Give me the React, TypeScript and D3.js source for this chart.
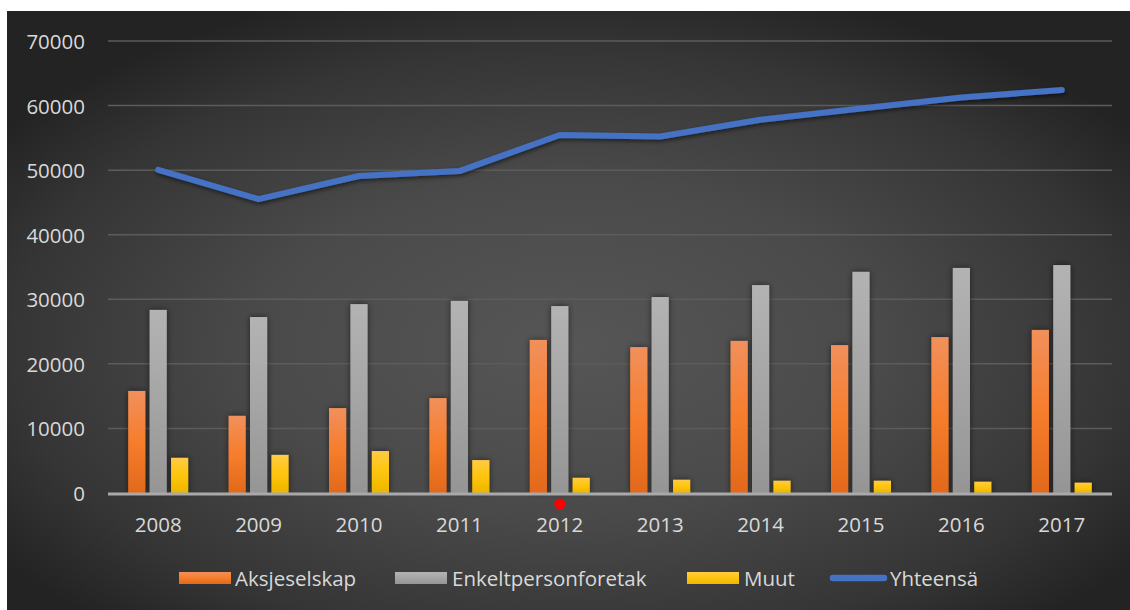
import React from "react";
import * as d3 from "d3";

const years = ["2008", "2009", "2010", "2011", "2012", "2013", "2014", "2015", "2016", "2017"];
const aksjeselskap = [15800, 11950, 13150, 14700, 23700, 22600, 23550, 22900, 24150, 25250];
const enkeltperson = [28350, 27250, 29250, 29750, 28950, 30350, 32200, 34250, 34850, 35300];
const muut = [5450, 5900, 6500, 5100, 2350, 2050, 1900, 1900, 1750, 1600];
const yhteensa = [50050, 45500, 49100, 49850, 55450, 55200, 57800, 59550, 61250, 62400];
const yTicks = [0, 10000, 20000, 30000, 40000, 50000, 60000, 70000];
const seriesNames = ["Aksjeselskap", "Enkeltpersonforetak", "Muut", "Yhteensä"];

const W = 1130;
const H = 610;
const FONT = "'Open Sans', 'Liberation Sans', sans-serif";
const TEXT = "#d9d9d9";

export default function App() {
  const x = d3.scaleBand<string>().domain(years).range([108, 1112]).paddingInner(0).paddingOuter(0);
  const y = d3.scaleLinear().domain([0, 70000]).range([493, 41]);
  const barKeys = ["a", "e", "m"];
  const sub = d3.scaleBand<string>().domain(barKeys).range([-30, 30]).paddingInner(0.2);
  const barSeries = [
    { key: "a", values: aksjeselskap, grad: "gOrange" },
    { key: "e", values: enkeltperson, grad: "gGray" },
    { key: "m", values: muut, grad: "gYellow" },
  ];
  const cx = (yr: string) => (x(yr) as number) + x.bandwidth() / 2;
  const line = d3
    .line<number>()
    .x((_, i) => cx(years[i]))
    .y((v) => y(v));

  const legend = [
    { name: seriesNames[0], kind: "bar", grad: "gOrange", sx: 179, tx: 235 },
    { name: seriesNames[1], kind: "bar", grad: "gGray", sx: 395, tx: 452 },
    { name: seriesNames[2], kind: "bar", grad: "gYellow", sx: 687, tx: 744 },
    { name: seriesNames[3], kind: "line", grad: "", sx: 830, tx: 890 },
  ];
  const legY = 578;

  return (
    <svg
      width={W}
      height={H}
      style={{ position: "absolute", left: 0, top: 0, display: "block" }}
      xmlns="http://www.w3.org/2000/svg"
    >
      <defs>
        <radialGradient id="bg" cx="0.5" cy="0.56" r="0.62" fx="0.5" fy="0.56">
          <stop offset="0" stopColor="#565656" />
          <stop offset="0.45" stopColor="#4a4a4a" />
          <stop offset="0.8" stopColor="#353535" />
          <stop offset="1" stopColor="#232323" />
        </radialGradient>
        <linearGradient id="gOrange" x1="0" y1="0" x2="0" y2="1">
          <stop offset="0" stopColor="#f1905c" />
          <stop offset="0.5" stopColor="#f67d2c" />
          <stop offset="1" stopColor="#e2691a" />
        </linearGradient>
        <linearGradient id="gGray" x1="0" y1="0" x2="0" y2="1">
          <stop offset="0" stopColor="#b3b3b3" />
          <stop offset="0.5" stopColor="#a5a5a5" />
          <stop offset="1" stopColor="#959595" />
        </linearGradient>
        <linearGradient id="gYellow" x1="0" y1="0" x2="0" y2="1">
          <stop offset="0" stopColor="#ffcb45" />
          <stop offset="0.5" stopColor="#ffc50a" />
          <stop offset="1" stopColor="#ecb600" />
        </linearGradient>
        <filter id="shadow" x="-50%" y="-20%" width="200%" height="140%">
          <feDropShadow dx="0" dy="0" stdDeviation="3" floodColor="#000" floodOpacity="0.55" />
        </filter>
        <filter id="lshadow" x="-10%" y="-30%" width="120%" height="160%">
          <feDropShadow dx="1" dy="2" stdDeviation="2" floodColor="#000" floodOpacity="0.55" />
        </filter>
      </defs>
      <rect x={0} y={0} width={W} height={H} fill="#ffffff" />
      <rect x={7} y={11} width={W - 7} height={H - 11} fill="url(#bg)" />

      {yTicks.map((t) =>
        t === 0 ? null : (
          <line key={"g" + t} x1={108} x2={1112} y1={y(t)} y2={y(t)} stroke="#5c5c5c" strokeWidth={1.5} />
        )
      )}
      {yTicks.map((t) => (
        <text
          key={"yl" + t}
          x={85}
          y={y(t)}
          textAnchor="end"
          dominantBaseline="central"
          fill={TEXT}
          fontFamily={FONT}
          fontSize={20.5}
        >
          {t}
        </text>
      ))}

      <g filter="url(#shadow)">
        {barSeries.map((s) =>
          s.values.map((v, i) => (
            <rect
              key={s.key + i}
              x={cx(years[i]) + (sub(s.key) as number)}
              y={y(v)}
              width={sub.bandwidth()}
              height={y(0) - y(v)}
              fill={`url(#${s.grad})`}
            />
          ))
        )}
      </g>

      <line x1={108} x2={1112} y1={y(0) + 1} y2={y(0) + 1} stroke="#a9a9a9" strokeWidth={3} />

      {years.map((yr) => (
        <text
          key={"xl" + yr}
          x={cx(yr)}
          y={524}
          textAnchor="middle"
          dominantBaseline="central"
          fill={TEXT}
          fontFamily={FONT}
          fontSize={20.5}
        >
          {yr}
        </text>
      ))}

      <path
        d={line(yhteensa) || ""}
        fill="none"
        stroke="#4472c4"
        strokeWidth={6}
        strokeLinecap="round"
        strokeLinejoin="round"
        filter="url(#lshadow)"
      />

      <circle cx={cx("2012")} cy={504} r={5.5} fill="#ff0000" />

      {legend.map((l) =>
        l.kind === "bar" ? (
          <rect key={"ls" + l.name} x={l.sx} y={legY - 6} width={52} height={12} fill={`url(#${l.grad})`} />
        ) : (
          <line
            key={"ls" + l.name}
            x1={l.sx + 3}
            x2={l.sx + 54}
            y1={legY}
            y2={legY}
            stroke="#4472c4"
            strokeWidth={6.5}
            strokeLinecap="round"
          />
        )
      )}
      {legend.map((l) => (
        <text
          key={"lt" + l.name}
          x={l.tx}
          y={legY}
          dominantBaseline="central"
          fill={TEXT}
          fontFamily={FONT}
          fontSize={20.5}
        >
          {l.name}
        </text>
      ))}
    </svg>
  );
}
